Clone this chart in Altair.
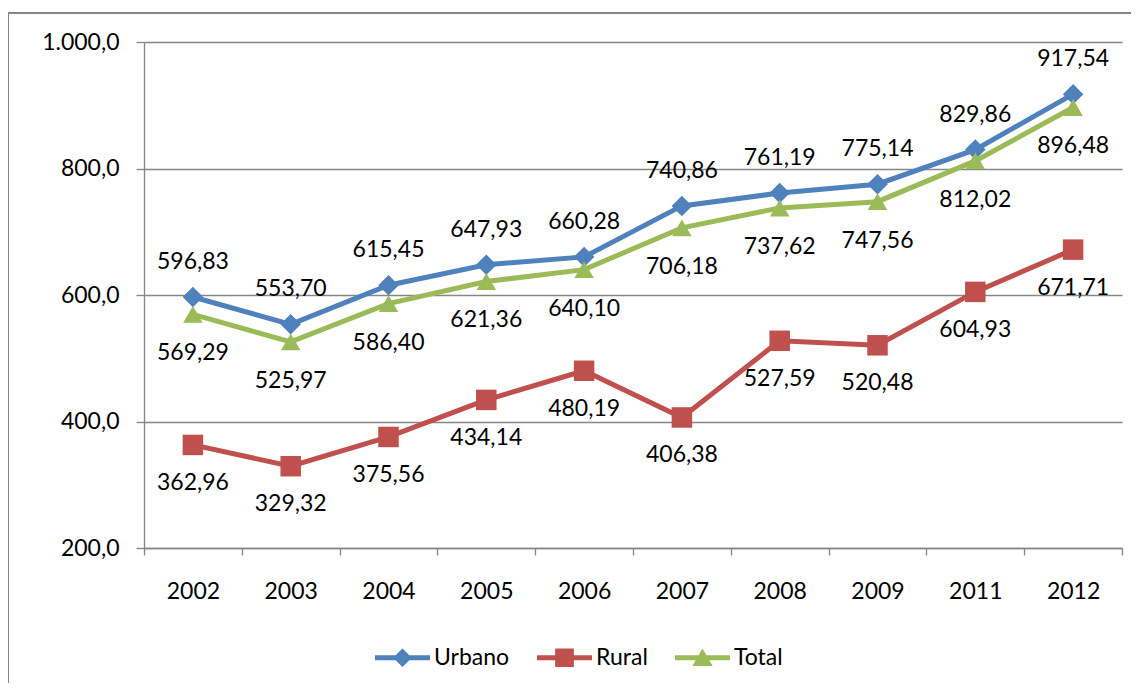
import altair as alt
import pandas as pd

anos = ["2002", "2003", "2004", "2005", "2006", "2007", "2008", "2009", "2011", "2012"]
urbano = [596.83, 553.70, 615.45, 647.93, 660.28, 740.86, 761.19, 775.14, 829.86, 917.54]
rural = [362.96, 329.32, 375.56, 434.14, 480.19, 406.38, 527.59, 520.48, 604.93, 671.71]
total = [569.29, 525.97, 586.40, 621.36, 640.10, 706.18, 737.62, 747.56, 812.02, 896.48]

series = ["Urbano", "Rural", "Total"]
colors = ["#4F81BD", "#C0504D", "#9BBB59"]
shapes = ["diamond", "square", "triangle-up"]
sizes = [420, 420, 380]
label_dy = [-35, 38, 39]

rows = []
for name, vals in zip(series, [urbano, rural, total]):
    for a, v in zip(anos, vals):
        rows.append({"ano": a, "serie": name, "valor": v,
                     "lab": f"{v:.2f}".replace(".", ",")})
df = pd.DataFrame(rows)

FONT = "Lato"
GRAY = "#868686"

x_enc = alt.X("ano:O", sort=anos, title=None,
              scale=alt.Scale(type="band", paddingInner=0, paddingOuter=0),
              axis=alt.Axis(labelAngle=0, tickBand="extent", tickSize=7,
                            tickColor=GRAY, domainColor=GRAY, domainWidth=1.3,
                            tickWidth=1.3, grid=False, labelPadding=25,
                            labelFont=FONT, labelFontSize=23, labelColor="black"))
y_enc = alt.Y("valor:Q", title=None,
              scale=alt.Scale(domain=[200, 1000], nice=False, zero=False),
              axis=alt.Axis(values=[200, 400, 600, 800, 1000], tickSize=8,
                            tickColor=GRAY, tickWidth=1.3, domainColor=GRAY,
                            domainWidth=1.3, grid=True, gridColor=GRAY,
                            gridWidth=1.3, labelPadding=17, labelFont=FONT,
                            labelFontSize=23, labelColor="black",
                            labelExpr="replace(replace(replace(format(datum.value, ',.1f'), ',', '#'), '.', ','), '#', '.')"))

base = alt.Chart(df)

frame = base.mark_rect(fill=None, stroke=GRAY, strokeWidth=2).encode(
    x=alt.value(-136), x2=alt.value(1200), y=alt.value(-29), y2=alt.value(800)
).transform_filter("datum.ano == '2002' && datum.serie == 'Urbano'")

layers = [frame]
for name, col, shp, sz in zip(series, colors, shapes, sizes):
    sub = base.transform_filter(alt.datum.serie == name)
    layers.append(sub.mark_line(color=col, strokeWidth=5).encode(x=x_enc, y=y_enc))
    layers.append(sub.mark_point(shape=shp, filled=True, size=sz, color=col,
                                 opacity=1).encode(x=x_enc, y=y_enc))

for name, dy in zip(series, label_dy):
    sub = base.transform_filter(alt.datum.serie == name)
    layers.append(sub.mark_text(dy=dy, font=FONT, fontSize=23, color="black",
                                baseline="middle").encode(x=x_enc, y=y_enc, text="lab:N"))

legend_paths = [
    "M-1,-0.09 L1,-0.09 L1,0.09 L-1,0.09 Z M-0.34,0 L0,-0.34 L0.34,0 L0,0.34 Z",
    "M-1,-0.09 L1,-0.09 L1,0.09 L-1,0.09 Z M-0.34,-0.34 L0.34,-0.34 L0.34,0.34 L-0.34,0.34 Z",
    "M-1,-0.09 L1,-0.09 L1,0.09 L-1,0.09 Z M0,-0.34 L0.37,0.3 L-0.37,0.3 Z",
]
leg = alt.Legend(title=None, orient="none", legendX=231, legendY=588,
                 direction="horizontal", symbolSize=3025, symbolStrokeWidth=0,
                 labelFont=FONT, labelFontSize=23, labelColor="black",
                 labelOffset=4, columnPadding=27, padding=0)
legend_layer = base.mark_point(filled=True, clip=True, opacity=1, size=3025).encode(
    x=x_enc,
    y=alt.value(-5000),
    color=alt.Color("serie:N", scale=alt.Scale(domain=series, range=colors), legend=leg),
    shape=alt.Shape("serie:N", scale=alt.Scale(domain=series, range=legend_paths), legend=leg),
)
layers.append(legend_layer)

chart = alt.layer(*layers).properties(
    width=978, height=506,
    autosize=alt.AutoSizeParams(type="none"),
    padding={"left": 136, "top": 34, "right": 9, "bottom": 135},
).configure_view(stroke=None)

chart.save("out.html", embed_options={"renderer": "svg", "actions": False})
